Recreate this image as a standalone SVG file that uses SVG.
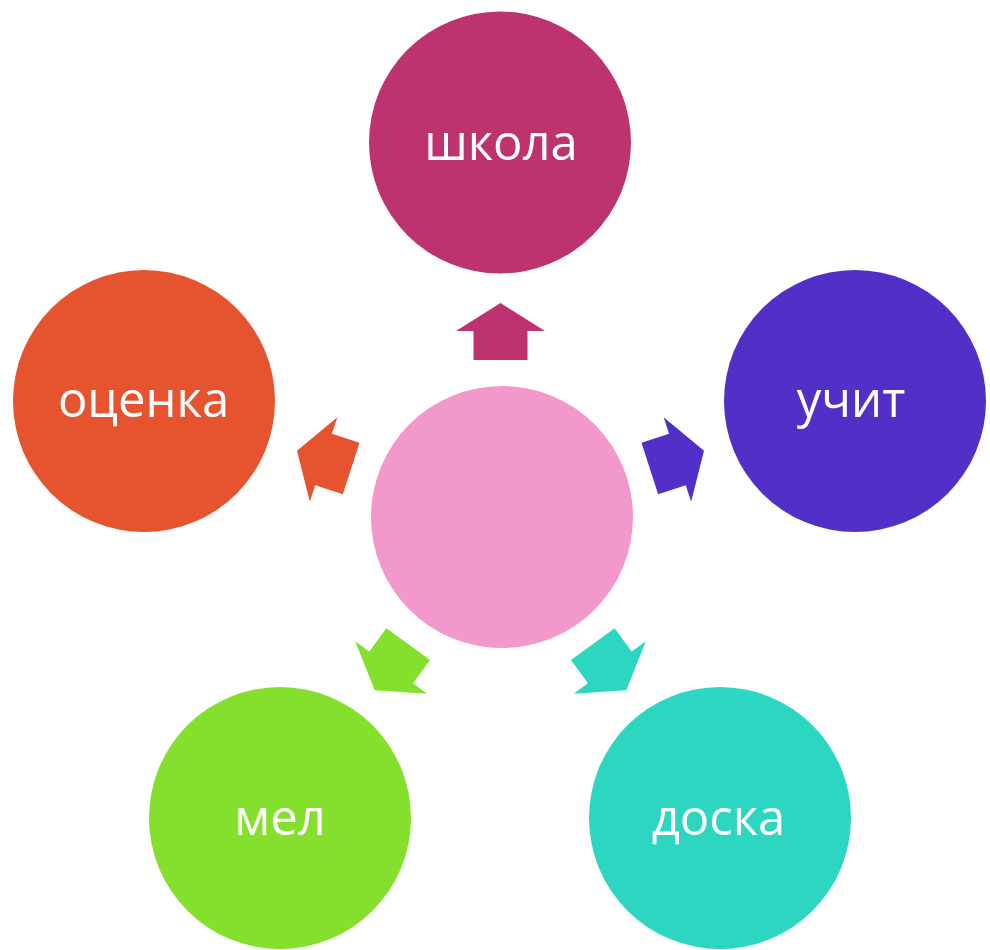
<svg xmlns="http://www.w3.org/2000/svg" width="990" height="950" viewBox="0 0 990 950">
<style>
text{font-family:"Open Sans","DejaVu Sans",sans-serif;font-size:49px;fill:#ffffff;text-anchor:middle}
</style>
<defs>
<path id="arr" d="M500.5,303 L545,331 L527.5,331 L527.5,360 L473.5,360 L473.5,331 L456,331 Z"/>
</defs>
<rect width="990" height="950" fill="#ffffff"/>
<g id="connectors">
<use href="#arr" fill="#BC336F"/>
<use href="#arr" fill="#5230C8" transform="rotate(72 500.5 517)"/>
<use href="#arr" fill="#2DD6C1" transform="rotate(144 500.5 517)"/>
<use href="#arr" fill="#84E02C" transform="rotate(216 500.5 517)"/>
<use href="#arr" fill="#E5542F" transform="rotate(288 500.5 517)"/>
</g>
<g id="center"><circle cx="502" cy="517" r="131" fill="#F298CB"/></g>
<g id="shkola"><circle cx="500" cy="142.5" r="131" fill="#BC336F"/><text x="501" y="160">школа</text></g>
<g id="uchit"><circle cx="855" cy="401" r="131" fill="#5230C8"/><text x="851" y="417">учит</text></g>
<g id="ocenka"><circle cx="144" cy="401" r="131" fill="#E5542F"/><text x="143.5" y="417">оценка</text></g>
<g id="mel"><circle cx="280" cy="818" r="131" fill="#84E02C"/><text x="280" y="835">мел</text></g>
<g id="doska"><circle cx="720" cy="818" r="131" fill="#2DD6C1"/><text x="718.5" y="835">доска</text></g>
</svg>
